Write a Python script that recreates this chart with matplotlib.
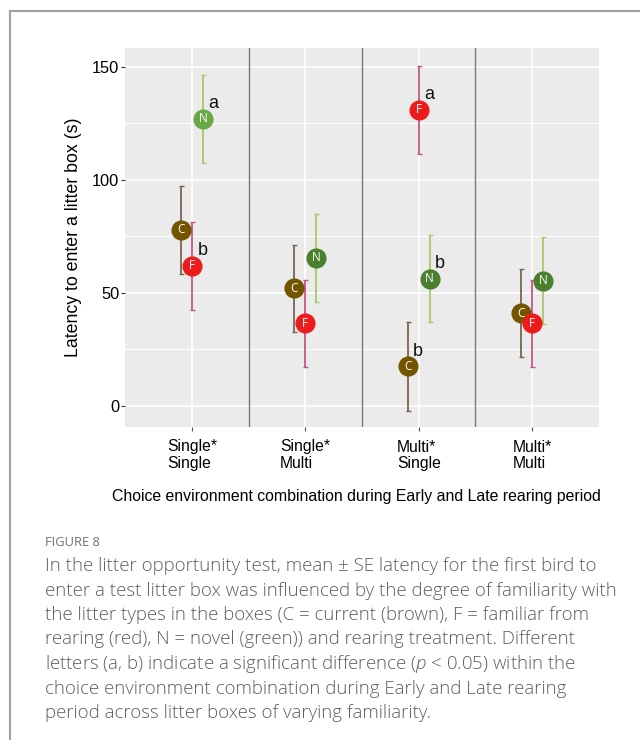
import numpy as np
import matplotlib
matplotlib.use('Agg')
import matplotlib.pyplot as plt
from matplotlib.lines import Line2D

plt.rcParams['font.family'] = ['Liberation Sans', 'DejaVu Sans']
plt.rcParams['mathtext.fontset'] = 'custom'
plt.rcParams['mathtext.it'] = 'Open Sans:italic:light'
plt.rcParams['mathtext.rm'] = 'Open Sans'

# data
groups = ['Single*\nSingle', 'Single*\nMulti', 'Multi*\nSingle', 'Multi*\nMulti']
c_mean = [78, 52, 17.5, 41]
c_se = [19.4, 19.3, 19.5, 19.4]
f_mean = [62, 36.5, 131, 36.5]
f_se = [19.4, 19.4, 19.3, 19.4]
n_mean = [127, 65.6, 56.4, 55.5]
n_se = [19.5, 19.4, 19.4, 19.4]

# significance letters: (group, litter type, letter)
sig_letters = [(0, 'N', 'a'), (0, 'F', 'b'), (2, 'F', 'a'), (2, 'N', 'b'), (2, 'C', 'b')]

caption = [
    "In the litter opportunity test, mean \u00b1 SE latency for the first bird to",
    "enter a test litter box was influenced by the degree of familiarity with",
    "the litter types in the boxes (C = current (brown), F = familiar from",
    "rearing (red), N = novel (green)) and rearing treatment. Different",
    "letters (a, b) indicate a significant difference ($p$ < 0.05) within the",
    "choice environment combination during Early and Late rearing",
    "period across litter boxes of varying familiarity.",
]

series = {
    'C': (c_mean, c_se, -0.097, '#735500', '#7a6650'),
    'F': (f_mean, f_se, 0.0, '#ec1c1c', '#c2558c'),
    'N': (n_mean, n_se, 0.097, '#4a7f2e', '#a8c86c'),
}
n_light = '#69a845'

fig = plt.figure(figsize=(6.4, 7.4), dpi=100)
ax = fig.add_axes([125/640, 1-427/740, 474/640, 379/740])
ax.set_facecolor('#ebebeb')

x = np.arange(1, len(groups) + 1)

# error bars first
for key, (m, se, off, col, ecol) in series.items():
    ax.errorbar(x + off, m, yerr=se, fmt='none', ecolor=ecol, elinewidth=1.3,
                capsize=1.8, capthick=1.0, zorder=3)

for key, (m, se, off, col, ecol) in series.items():
    for i in range(len(groups)):
        fc = col
        if key == 'N' and i == 0:
            fc = n_light
        ax.plot(x[i] + off, m[i], 'o', ms=13.5, color=fc, mec=fc, zorder=4 + i * 0.01)
        ax.text(x[i] + off, m[i], key, color='white', fontsize=8.5,
                ha='center', va='center', zorder=5, family='Open Sans')

for g, key, let in sig_letters:
    m, se, off, col, ecol = series[key]
    ax.annotate(let, (x[g] + off, m[g]), xytext=(7.5, 11), textcoords='offset points',
                ha='center', va='center', fontsize=13, color='#111111', zorder=6)

for sep in [1.5, 2.5, 3.5]:
    ax.axvline(sep, color='#7a7a7a', lw=1.0, zorder=2)

ax.set_xlim(0.41, 4.59)
ax.set_ylim(-9.3, 158.4)
ax.set_yticks([0, 50, 100, 150])
ax.set_yticks([25, 75, 125], minor=True)
ax.set_xticks(x)
ax.set_xticklabels(groups, fontsize=11.3, multialignment='left', linespacing=1.15)
ax.tick_params(axis='y', labelsize=11.8, length=3, color='#333333', width=0.8, pad=1)
ax.tick_params(axis='y', which='minor', length=0)
ax.tick_params(axis='x', length=3, color='#555555', width=0.8, pad=6)
ax.grid(True, which='major', color='white', lw=1.2, zorder=0)
ax.grid(True, which='minor', axis='y', color='white', lw=0.7, zorder=0)
ax.set_axisbelow(True)
for s in ax.spines.values():
    s.set_visible(False)

ax.set_ylabel('Latency to enter a litter box (s)', fontsize=12.8, labelpad=7)
fig.text(356/640, 1-497/740, 'Choice environment combination during Early and Late rearing period',
         ha='center', va='center', fontsize=11.4)

# outer frame (top and left only)
fig.add_artist(Line2D([10/640, 1], [1-11/740, 1-11/740], color='#a0a0a0', lw=1.5))
fig.add_artist(Line2D([10/640, 10/640], [0, 1-11/740], color='#a0a0a0', lw=1.5))

fig.text(45/640, 1-543/740, 'FIGURE 8', fontsize=9.3, color='#707070',
         family='Open Sans', va='center', ha='left')
for k, line in enumerate(caption):
    fig.text(45/640, 1-(566 + k*24.5)/740, line, fontsize=13.4, color='#5e5e5e',
             family='Open Sans', weight='light', va='center', ha='left')

fig.savefig('out.png', dpi=100)
